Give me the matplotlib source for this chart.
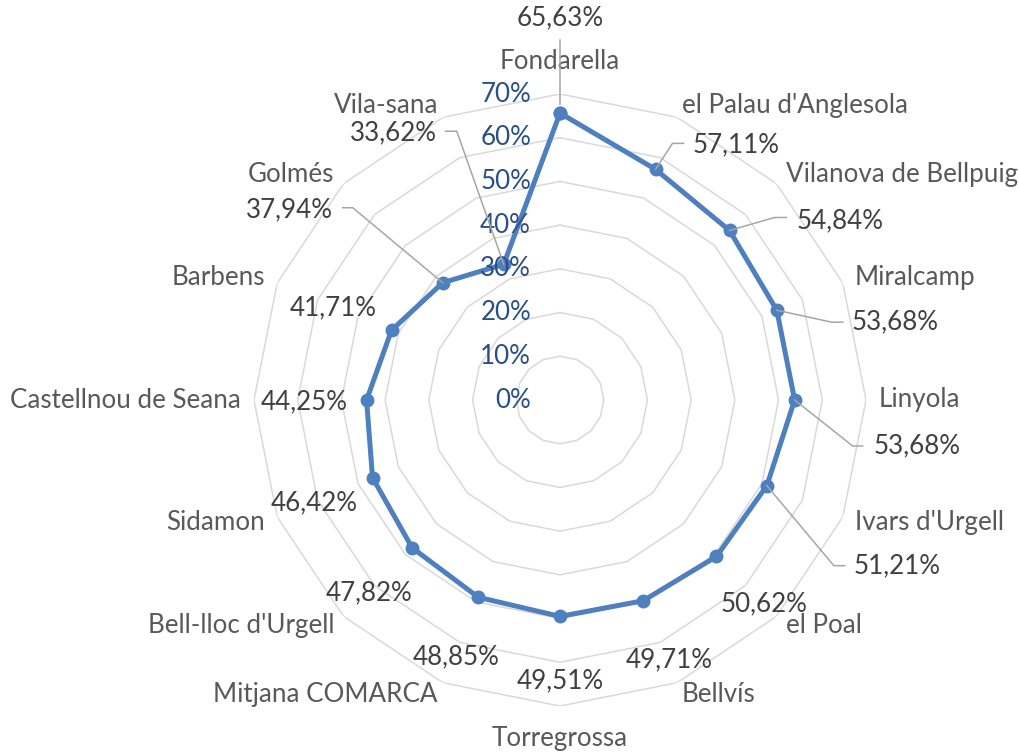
import numpy as np
import matplotlib.pyplot as plt

plt.rcParams['font.family'] = ['Lato', 'DejaVu Sans']

# data
towns = ["Fondarella", "el Palau d'Anglesola", "Vilanova de Bellpuig", "Miralcamp",
         "Linyola", "Ivars d'Urgell", "el Poal", "Bellvís", "Torregrossa",
         "Mitjana COMARCA", "Bell-lloc d'Urgell", "Sidamon", "Castellnou de Seana",
         "Barbens", "Golmés", "Vila-sana"]
values = [65.63, 57.11, 54.84, 53.68, 53.68, 51.21, 50.62, 49.71, 49.51,
          48.85, 47.82, 46.42, 44.25, 41.71, 37.94, 33.62]
ticks = [0, 10, 20, 30, 40, 50, 60, 70]

# label offsets in pixels (dx, dy up), alignment, and leader line vertices
label_pos = [
    ((0, 95), 'center', [(0, 9), (0, 73)]),
    ((37, 25), 'left', [(0, 0), (17, 26), (28, 26)]),
    ((67, 10), 'left', [(0, 0), (45, 13), (57, 13)]),
    ((75, -12), 'left', [(0, 0), (55, -12), (66, -12)]),
    ((79, -46), 'left', [(0, 0), (58, -46), (68, -46)]),
    ((87, -80), 'left', [(0, 0), (67, -80), (78, -80)]),
    ((48, -47), 'center', None),
    ((26, -59), 'center', None),
    ((0, -64), 'center', None),
    ((-22, -60), 'center', None),
    ((-43, -45), 'center', None),
    ((-58, -25), 'center', None),
    ((-62, -2), 'center', None),
    ((-58, 22), 'center', None),
    ((-110, 73), 'right', [(0, 0), (-90, 75), (-100, 75)]),
    ((-67, 131), 'right', [(0, 0), (-47, 133), (-58, 133)]),
]

n = len(towns)
theta = np.arange(n) * 2 * np.pi / n
rmax = 70
fs = 18.7

fig = plt.figure(figsize=(10.19, 7.54), dpi=100)
ax = fig.add_axes([254 / 1019, 48 / 754, 612 / 1019, 612 / 754], projection='polar')
ax.set_theta_zero_location('N')
ax.set_theta_direction(-1)
ax.set_ylim(0, rmax)
ax.grid(False)
ax.spines['polar'].set_visible(False)
ax.set_xticks([])
ax.set_yticks([])
ax.patch.set_alpha(0)

# polygon grid
th_closed = np.append(theta, theta[0])
for t in ticks[1:]:
    ax.plot(th_closed, [t] * (n + 1), color='#D9D9D9', lw=1.1, zorder=1)

# radial tick labels
for t in ticks:
    ax.annotate(f"{t}%", xy=(0, t), xytext=(-29, 0), textcoords='offset pixels',
                ha='right', va='center', fontsize=fs, color='#284F86', zorder=5)

# category labels
for th, name in zip(theta, towns):
    s, c = np.sin(th), np.cos(th)
    if abs(s) < 0.1:
        d = 20
        ha = 'center'
        va = 'bottom' if c > 0 else 'top'
    else:
        d = 13
        ha = 'left' if s > 0 else 'right'
        va = 'center'
    ax.annotate(name, xy=(th, rmax), xytext=(d * s, d * c), textcoords='offset pixels',
                ha=ha, va=va, fontsize=fs, color='#595959')

# series
vals_closed = values + [values[0]]
ax.plot(th_closed, vals_closed, color='#4E7FBF', lw=3.6, marker='o', markersize=9,
        zorder=4, clip_on=False)

# data labels and leader lines
fig.canvas.draw()
for th, v, (off, ha, leader) in zip(theta, values, label_pos):
    ax.annotate(f"{v:.2f}%".replace('.', ','), xy=(th, v), xytext=off,
                textcoords='offset pixels', ha=ha, va='center', fontsize=fs,
                color='#404040', zorder=6)
    if leader:
        px, py = ax.transData.transform((th, v))
        xs = [px + dx for dx, dy in leader]
        ys = [py + dy for dx, dy in leader]
        line = plt.Line2D(xs, ys, color='#A6A6A6', lw=1.1, transform=None, zorder=3)
        fig.add_artist(line)

fig.savefig('out.png', dpi=100)
